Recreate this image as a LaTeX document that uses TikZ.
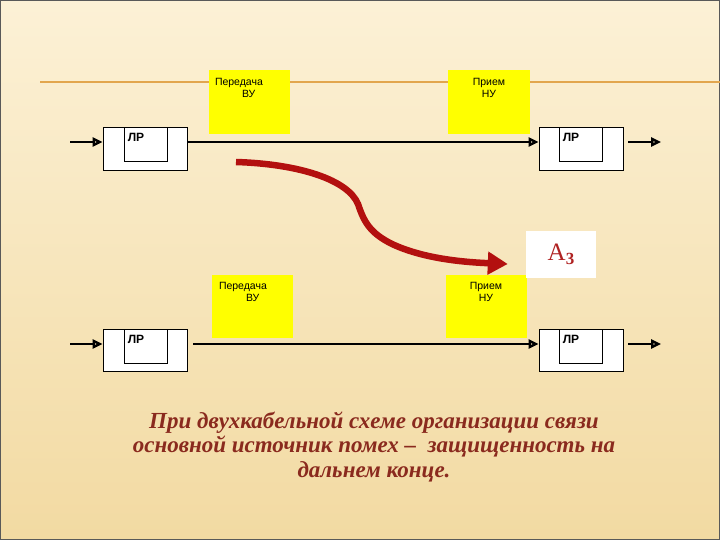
\documentclass[tikz,border=0pt]{standalone}
\usepackage{fontspec}
\setmainfont{Liberation Serif}
\newfontfamily\lab{Liberation Sans}
\usetikzlibrary{arrows.meta}
\definecolor{bgtop}{HTML}{FCF1D6}
\definecolor{bgbot}{HTML}{F2DAA2}
\definecolor{orangeline}{HTML}{E2A64E}
\definecolor{yel}{HTML}{FFFF00}
\definecolor{redarrow}{HTML}{B3100F}
\definecolor{textred}{HTML}{8A2A1E}
\definecolor{ared}{HTML}{B02222}
\tikzset{
  ybox/.style={fill=yel, draw=none, minimum width=81pt, minimum height=64pt, inner sep=0pt},
  ylab/.style={font=\lab\fontsize{10.5}{12}\selectfont, inner sep=0pt, align=left, anchor=north west},
  lrout/.style={draw=black, fill=white, line width=0.9pt, minimum width=84pt, minimum height=43pt, inner sep=0pt},
  lrin/.style={draw=black, fill=white, line width=0.9pt, minimum width=43pt, minimum height=34pt, inner sep=0pt},
  lrtext/.style={font=\lab\bfseries\fontsize{12}{12}\selectfont, inner sep=0pt, anchor=north west},
  sig/.style={line width=2.8pt, -{Triangle[open, length=10pt, width=9pt, line width=2.4pt]}},
}
\begin{document}
\begin{tikzpicture}[x=1pt,y=-1pt]
\useasboundingbox (0,0) rectangle (720,540);
\shade[top color=bgtop, bottom color=bgbot] (0,0) rectangle (720,540);
\draw[gray!70!black, line width=1pt] (0.5,0.5) rectangle (719.5,539.5);
\draw[orangeline, line width=2.6pt] (40,82) -- (720,82);

% yellow boxes
\node[ybox] (y1) at (249.5,102) {};
\node[ybox, minimum width=82pt] (y2) at (489,102) {};
\node[ybox, minimum height=63pt] (y3) at (252.5,306.5) {};
\node[ybox, minimum height=63pt] (y4) at (486,306.5) {};
\node[ylab] (t1) at ([xshift=6pt,yshift=-8pt]y1.north west) {Передача\\\hspace*{27pt}ВУ};
\node[ylab, align=center, anchor=north] (t2) at ([yshift=-8pt]y2.north) {Прием\\НУ};
\node[ylab] (t3) at ([xshift=7pt,yshift=-7pt]y3.north west) {Передача\\\hspace*{27pt}ВУ};
\node[ylab, align=center, anchor=north] (t4) at ([xshift=0pt,yshift=-7pt]y4.north) {Прием\\НУ};

% LR boxes top
\node[lrout] (a1) at (145,148.5) {};
\node[lrin, anchor=north] (a1i) at ([xshift=0.5pt]a1.north) {};
\node[lrtext] at ([xshift=4pt,yshift=-6pt]a1i.north west) {ЛР};
\node[lrout] (a2) at (581,148.5) {};
\node[lrin, anchor=north] (a2i) at ([xshift=-0.5pt]a2.north) {};
\node[lrtext] at ([xshift=4pt,yshift=-6pt]a2i.north west) {ЛР};
% LR boxes bottom
\node[lrout, minimum height=42pt] (b1) at (145,350) {};
\node[lrin, anchor=north] (b1i) at ([xshift=0.5pt]b1.north) {};
\node[lrtext] at ([xshift=4pt,yshift=-6pt]b1i.north west) {ЛР};
\node[lrout, minimum height=42pt] (b2) at (581,350) {};
\node[lrin, anchor=north] (b2i) at ([xshift=-0.5pt]b2.north) {};
\node[lrtext] at ([xshift=4pt,yshift=-6pt]b2i.north west) {ЛР};

% signal lines
\coordinate (inA) at (70,142);
\coordinate (outA) at (661,142);
\coordinate (inB) at (70,344);
\coordinate (outB) at (661,344);
\draw[sig] (inA) -- (inA -| a1.west);
\draw[sig] (inA -| a1.east) -- (inA -| a2.west);
\draw[sig] ([xshift=5pt]inA -| a2.east) -- (outA);
\draw[sig] (inB) -- (inB -| b1.west);
\draw[sig] ([xshift=6pt]inB -| b1.east) -- (inB -| b2.west);
\draw[sig] ([xshift=5pt]inB -| b2.east) -- (outB);

% A3 label
\node[fill=white, minimum width=70pt, minimum height=47pt, inner sep=0pt, text=ared,
      font=\fontsize{25}{28}\selectfont] (a3) at (561,254.5) {А\raisebox{-4pt}{\fontsize{17}{18}\selectfont\bfseries 3}};

% red curved arrow
\coordinate (rs) at (236,162);
\draw[redarrow, line width=6.5pt, -{Triangle[length=20pt, width=22pt]}]
  (rs) .. controls (300,164) and (348,180) .. (358,204)
       .. controls (364,222) and (370,233) .. (392,244)
       .. controls (422,258) and (460,262) .. ([xshift=-18pt]a3.west |- 0,264);

% caption
\node[text=textred, font=\bfseries\itshape\fontsize{23}{25}\selectfont, align=center, inner sep=0pt] (cap) at (374,447)
  {При двухкабельной схеме организации связи\\основной источник помех –\ \ защищенность на\\дальнем конце.};
\end{tikzpicture}
\end{document}
